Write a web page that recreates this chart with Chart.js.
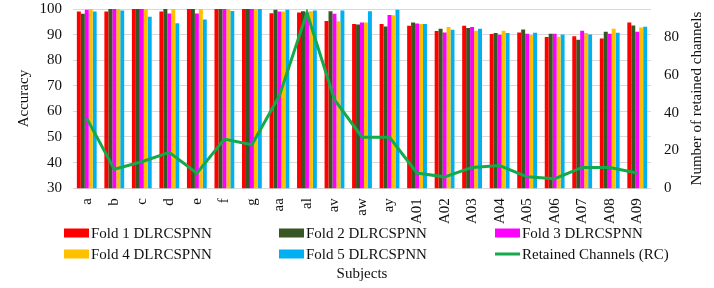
<!DOCTYPE html>
<html>
<head>
<meta charset="utf-8">
<script src="https://cdn.jsdelivr.net/npm/chart.js@4.4.1/dist/chart.umd.min.js"></script>
<style>
  html, body { margin: 0; padding: 0; background: #fff; }
  #caja { width: 714px; height: 288px; }
</style>
</head>
<body>
<div id="caja"><canvas id="miGrafica" width="714" height="288"></canvas></div>
<script>
const sujetos = ["a", "b", "c", "d", "e", "f", "g", "aa", "al", "av", "aw", "ay",
  "A01", "A02", "A03", "A04", "A05", "A06", "A07", "A08", "A09"];

const fold1 = [99.0, 99.0, 100, 99.0, 100, 100, 100, 98.3, 98.6, 95.3, 94.1, 94.1, 93.5, 91.4, 93.5, 90.2, 90.8, 89.1, 89.4, 88.5, 94.7];
const fold2 = [98.1, 100, 100, 100, 100, 100, 100, 99.7, 99.1, 99.1, 93.9, 93.2, 94.7, 92.3, 92.6, 90.6, 92.0, 90.3, 88.0, 91.1, 93.6];
const fold3 = [99.7, 100, 100, 98.2, 98.2, 100, 100, 99.0, 98.6, 98.1, 94.7, 97.7, 94.3, 90.8, 93.0, 89.9, 90.3, 90.3, 91.5, 90.3, 91.1];
const fold4 = [100, 100, 100, 100, 100, 100, 100, 99.0, 99.1, 95.2, 94.7, 97.6, 94.1, 93.0, 91.5, 91.5, 89.8, 89.2, 90.6, 92.3, 92.8];
const fold5 = [99.0, 99.4, 97.0, 94.4, 95.9, 99.2, 100, 99.7, 99.4, 99.4, 99.1, 99.7, 94.1, 91.9, 92.3, 90.6, 90.7, 90.0, 90.0, 90.7, 93.1];
const canales = [37, 10, 14, 19, 8, 26, 23, 49, 93, 47, 27, 27, 8, 6, 11, 12, 6, 5, 11, 11, 8];

const ticksIzq = [30, 40, 50, 60, 70, 80, 90, 100];
const ticksDer = [0, 20, 40, 60, 80];

const fuente = '"Liberation Serif", "Times New Roman", serif';
const negro = "#111111";

function barras(label, data, color) {
    return {
        type: "bar",
        label: label,
        data: data,
        backgroundColor: color,
        borderWidth: 0,
        yAxisID: "y",
        order: 1,
        categoryPercentage: 0.72,
        barPercentage: 1.0
    };
}

// leyenda en rejilla de 3 columnas y titulo derecho (leido de abajo a arriba)
const leyenda = {
    id: "leyenda",
    afterDraw(chart) {
        const ctx = chart.ctx;
        const cols = [64, 279, 495];
        const filas = [233, 254];
        ctx.save();
        ctx.font = "15px " + fuente;
        ctx.textBaseline = "middle";
        chart.data.datasets.forEach((ds, i) => {
            const x = cols[i % 3];
            const y = filas[Math.floor(i / 3)];
            if (ds.type === "line") {
                ctx.strokeStyle = ds.borderColor;
                ctx.lineWidth = 3;
                ctx.beginPath();
                ctx.moveTo(x, y);
                ctx.lineTo(x + 25, y);
                ctx.stroke();
            } else {
                ctx.fillStyle = ds.backgroundColor;
                ctx.fillRect(x, y - 4.5, 25, 9);
            }
            ctx.fillStyle = negro;
            ctx.textAlign = "left";
            ctx.fillText(ds.label, x + 27, y + 1);
        });

        const area = chart.chartArea;
        ctx.translate(697, (area.top + area.bottom) / 2);
        ctx.rotate(-Math.PI / 2);
        ctx.textAlign = "center";
        ctx.fillText("Number of retained channels", 0, 0);
        ctx.restore();
    }
};

const ctx = document.getElementById("miGrafica").getContext("2d");
new Chart(ctx, {
    data: {
        labels: sujetos,
        datasets: [
            barras("Fold 1 DLRCSPNN", fold1, "#FF0000"),
            barras("Fold 2 DLRCSPNN", fold2, "#375623"),
            barras("Fold 3 DLRCSPNN", fold3, "#FF00FF"),
            barras("Fold 4 DLRCSPNN", fold4, "#FFC000"),
            barras("Fold 5 DLRCSPNN", fold5, "#00B0F0"),
            {
                type: "line",
                label: "Retained Channels (RC)",
                data: canales,
                borderColor: "#14A94A",
                backgroundColor: "#14A94A",
                borderWidth: 3,
                pointRadius: 0,
                tension: 0,
                yAxisID: "y1",
                order: 0
            }
        ]
    },
    options: {
        responsive: false,
        animation: false,
        devicePixelRatio: 1,
        layout: { padding: { left: 15, right: 35, top: 1, bottom: 2 } },
        plugins: {
            legend: { display: false },
            tooltip: { enabled: false }
        },
        scales: {
            x: {
                grid: { display: false },
                border: { display: false },
                ticks: {
                    color: negro,
                    font: { family: fuente, size: 15 },
                    minRotation: 90,
                    maxRotation: 90,
                    autoSkip: false,
                    padding: 2
                },
                title: {
                    display: true,
                    text: "Subjects",
                    color: negro,
                    font: { family: fuente, size: 15 },
                    padding: { top: 39, bottom: 3 }
                }
            },
            y: {
                position: "left",
                min: 30,
                max: 100,
                afterBuildTicks: s => { s.ticks = ticksIzq.map(v => ({ value: v })); },
                // separacion de etiquetas con tickLength para no empujar el area hacia abajo
                grid: { color: "#D9D9D9", drawTicks: true, tickLength: 11, tickColor: "rgba(0,0,0,0)" },
                border: { display: false },
                ticks: {
                    color: negro,
                    font: { family: fuente, size: 15 },
                    padding: 0
                },
                title: {
                    display: true,
                    text: "Accuracy",
                    color: negro,
                    font: { family: fuente, size: 15 },
                    padding: { top: 0, bottom: 6.5 }
                }
            },
            y1: {
                position: "right",
                min: 0,
                max: 95,
                afterBuildTicks: s => { s.ticks = ticksDer.map(v => ({ value: v })); },
                grid: { drawOnChartArea: false, drawTicks: true, tickLength: 13, color: "rgba(0,0,0,0)" },
                border: { display: false },
                ticks: {
                    color: negro,
                    font: { family: fuente, size: 15 },
                    padding: 0
                }
            }
        }
    },
    plugins: [leyenda]
});
</script>
</body>
</html>
